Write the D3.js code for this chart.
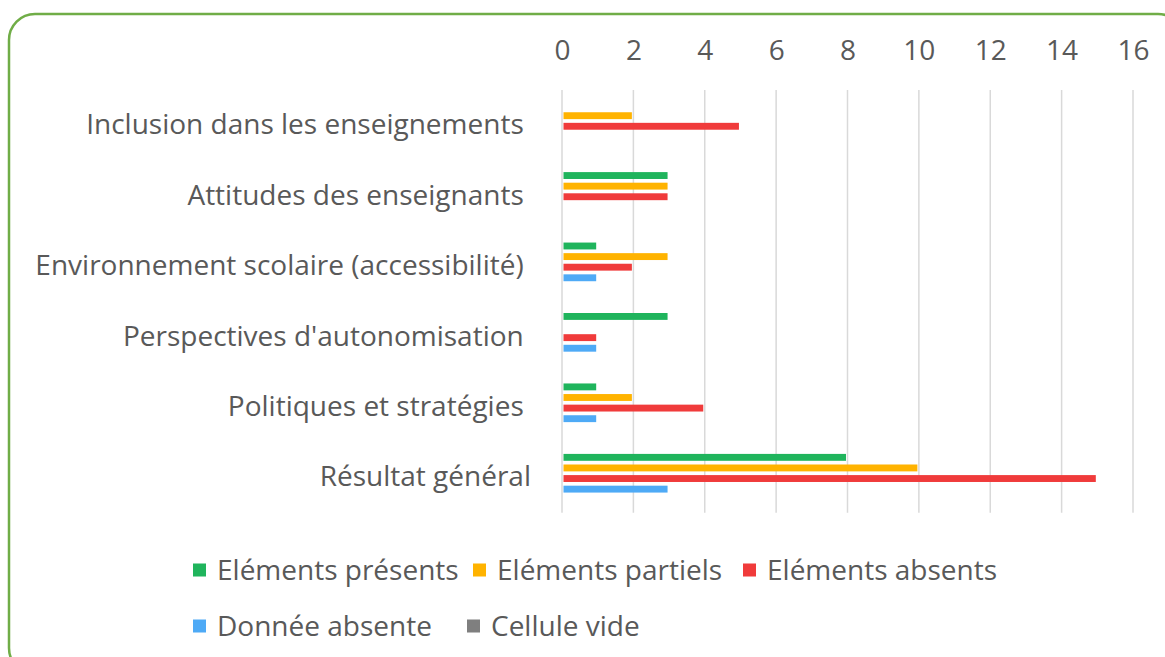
<!DOCTYPE html>
<html>
<head>
<meta charset="utf-8">
<script src="https://cdn.jsdelivr.net/npm/d3@7"></script>
<style>
  html, body { margin: 0; padding: 0; background: #fff; }
  svg { display: block; }
  text { font-family: "Open Sans", Lato, sans-serif; fill: #595959; }
</style>
</head>
<body>
<svg id="chart" width="1165" height="657"></svg>
<script>
// Categories (top to bottom); trailing no-break spaces keep Excel's label spacing
const categories = [
  "Inclusion dans les enseignements\u00a0",
  "Attitudes des enseignants\u00a0",
  "Environnement scolaire (accessibilité)\u00a0",
  "Perspectives d'autonomisation\u00a0",
  "Politiques et stratégies\u00a0",
  "Résultat général"
];
const seriesNames = ["Eléments présents", "Eléments partiels", "Eléments absents", "Donnée absente", "Cellule vide"];
const presents  = [0, 3, 1, 3, 1, 8];
const partiels  = [2, 3, 3, 0, 2, 10];
const absents   = [5, 3, 2, 1, 4, 15];
const absente   = [0, 0, 1, 1, 1, 3];
const vide      = [0, 0, 0, 0, 0, 0];
const xTicks    = [0, 2, 4, 6, 8, 10, 12, 14, 16];
const colors    = ["#1fb45c", "#ffb300", "#f03b3b", "#4eaaf6", "#7f7f7f"];

const seriesValues = [presents, partiels, absents, absente, vide];
const FONT = 28;

const svg = d3.select("#chart");

// Rounded green frame
svg.append("rect")
  .attr("x", 9).attr("y", 14)
  .attr("width", 1175).attr("height", 660)
  .attr("rx", 26).attr("ry", 26)
  .attr("fill", "#fff")
  .attr("stroke", "#70ad47")
  .attr("stroke-width", 2.5);

const plot = { left: 562, right: 1133, top: 90, bottom: 512.7 };

const x = d3.scaleLinear().domain([0, 16]).range([plot.left, plot.right]);
const y0 = d3.scaleBand().domain(categories).range([plot.top, plot.bottom]).padding(0);
const y1 = d3.scaleBand().domain(seriesNames).range([0, y0.bandwidth()])
  .paddingInner(0.35).paddingOuter(1.0).align(0.55);

// Vertical gridlines
svg.append("g")
  .selectAll("line")
  .data(xTicks)
  .join("line")
  .attr("x1", d => x(d)).attr("x2", d => x(d))
  .attr("y1", plot.top).attr("y2", plot.bottom)
  .attr("stroke", "#d9d9d9")
  .attr("stroke-width", 1.5);

// Top value axis labels
const xAxis = d3.axisTop(x).tickValues(xTicks).tickSize(0).tickPadding(0);
const gx = svg.append("g").attr("transform", "translate(0,60)").call(xAxis);
gx.select(".domain").remove();
gx.selectAll("text")
  .attr("font-size", FONT)
  .attr("font-family", "'Open Sans', Lato, sans-serif")
  .attr("fill", "#595959");

// Category labels
const yAxis = d3.axisLeft(y0).tickSize(0).tickPadding(0);
const gy = svg.append("g").attr("transform", "translate(531,0)").call(yAxis);
gy.select(".domain").remove();
gy.selectAll("text")
  .attr("font-size", FONT)
  .attr("font-family", "'Open Sans', Lato, sans-serif")
  .attr("fill", "#595959")
  .style("white-space", "pre");

// Bars
const rows = categories.map((c, i) => ({
  cat: c,
  vals: seriesNames.map((s, j) => ({ s, v: seriesValues[j][i], color: colors[j] }))
}));

const groups = svg.append("g")
  .selectAll("g")
  .data(rows)
  .join("g")
  .attr("transform", d => `translate(0,${y0(d.cat)})`);

groups.selectAll("rect")
  .data(d => d.vals.filter(e => e.v > 0))
  .join("rect")
  .attr("x", x(0) + 1.5)
  .attr("y", d => y1(d.s))
  .attr("width", d => x(d.v) - x(0) - 3)
  .attr("height", y1.bandwidth())
  .attr("fill", d => d.color);

// Legend
const legendItems = [
  { name: seriesNames[0], color: colors[0], x: 193, y: 570 },
  { name: seriesNames[1], color: colors[1], x: 473, y: 570 },
  { name: seriesNames[2], color: colors[2], x: 743, y: 570 },
  { name: seriesNames[3], color: colors[3], x: 193, y: 626 },
  { name: seriesNames[4], color: colors[4], x: 467, y: 626 }
];
const lg = svg.append("g")
  .selectAll("g")
  .data(legendItems)
  .join("g")
  .attr("transform", d => `translate(${d.x},${d.y})`);
lg.append("rect")
  .attr("x", 0).attr("y", -6.5)
  .attr("width", 13).attr("height", 13)
  .attr("fill", d => d.color);
lg.append("text")
  .attr("x", 24).attr("y", 0)
  .attr("dy", "0.35em")
  .attr("font-size", FONT)
  .text(d => d.name);
</script>
</body>
</html>
